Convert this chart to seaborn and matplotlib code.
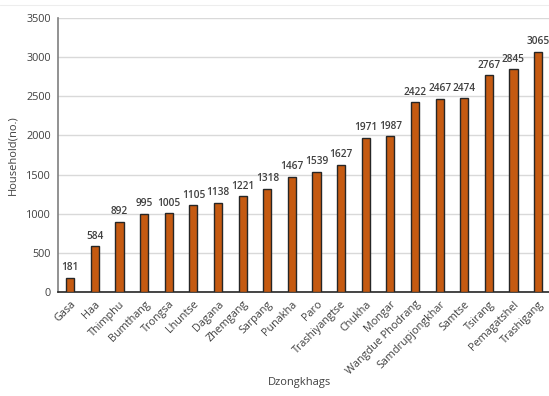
import matplotlib
matplotlib.use("Agg")
import matplotlib.pyplot as plt
import seaborn as sns
import pandas as pd

dzongkhags = ["Gasa", "Haa", "Thimphu", "Bumthang", "Trongsa", "Lhuntse", "Dagana",
              "Zhemgang", "Sarpang", "Punakha", "Paro", "Trashiyangtse", "Chukha",
              "Mongar", "Wangdue Phodrang", "Samdrupjongkhar", "Samtse", "Tsirang",
              "Pemagatshel", "Trashigang"]
households = [181, 584, 892, 995, 1005, 1105, 1138, 1221, 1318, 1467, 1539, 1627,
              1971, 1987, 2422, 2467, 2474, 2767, 2845, 3065]

df = pd.DataFrame({"Dzongkhag": dzongkhags, "Households": households})

sns.set_style("white")
plt.rcParams["font.family"] = ["Open Sans", "DejaVu Sans"]

fig = plt.figure(figsize=(5.49, 3.96), dpi=100)
ax = fig.add_axes([0.1056, 0.2626, 0.897, 0.692])

sns.barplot(data=df, x="Dzongkhag", y="Households", color="#C55A11", saturation=1,
            width=0.33, edgecolor="#262626", linewidth=1.0, ax=ax, zorder=3)

ax.set_ylim(0, 3500)
ax.set_yticks(range(0, 3501, 500))
ax.yaxis.grid(True, color="#D9D9D9", linewidth=1.0, zorder=0)
ax.set_axisbelow(True)

for spine in ["top", "right"]:
    ax.spines[spine].set_visible(False)
ax.spines["left"].set_color("#7F7F7F")
ax.spines["left"].set_linewidth(1.2)
ax.spines["bottom"].set_color("#262626")
ax.spines["bottom"].set_linewidth(1.2)

ax.tick_params(axis="both", length=0, labelsize=7.8, colors="#404040", pad=5)
plt.setp(ax.get_xticklabels(), rotation=45, ha="right", rotation_mode="anchor")

for i, v in enumerate(households):
    ax.text(i, v + 60, str(v), ha="center", va="bottom", fontsize=7.3,
            fontweight="semibold", color="#404040")

ax.set_xlabel("Dzongkhags", fontsize=8, color="#404040")
ax.xaxis.set_label_coords(0.49, -0.31)
ax.set_ylabel("Household(no.)", fontsize=8, color="#404040")
ax.yaxis.set_label_coords(-0.08, 0.5)

fig.add_artist(plt.Line2D([0, 1], [0.987, 0.987], color="#EDEDED", linewidth=0.8))

fig.savefig("out.png", dpi=100)
